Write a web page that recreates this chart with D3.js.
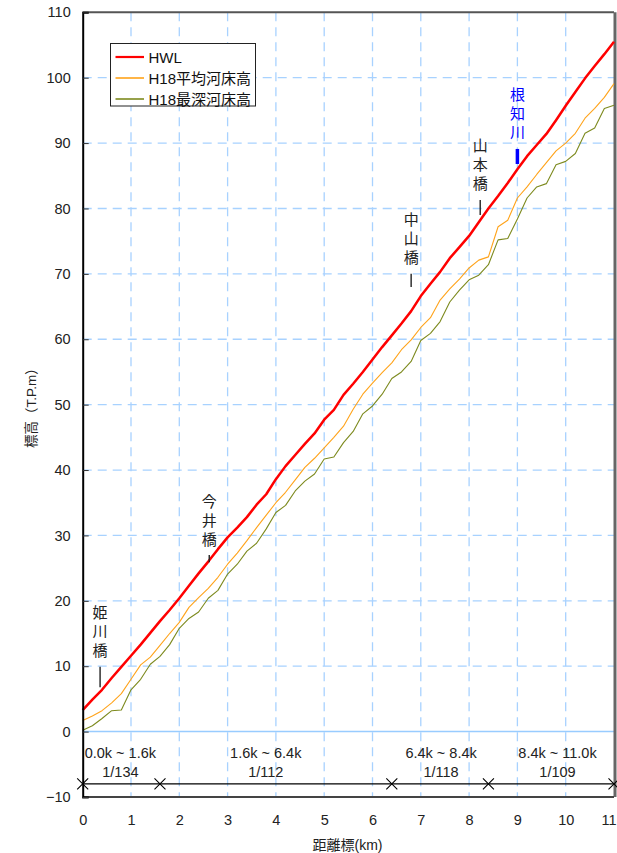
<!DOCTYPE html>
<html><head><meta charset="utf-8">
<script src="https://cdn.jsdelivr.net/npm/d3@7"></script>
<style>
body{margin:0;background:#fff;}
text{font-family:"Liberation Sans","Noto Sans CJK JP",sans-serif;}
</style></head>
<body>
<svg id="chart" width="617" height="853"></svg>
<script>
// ---------- data ----------
const km = d3.range(0, 56).map(i => +(i * 0.2).toFixed(1));
const hwl = [3.3,4.9,6.4,8.2,9.9,11.6,13.3,15.1,16.9,18.6,20.4,22.3,24.2,26.0,27.9,29.7,31.2,32.8,34.7,36.3,38.6,40.6,42.3,44.0,45.6,47.7,49.2,51.5,53.2,55.0,56.9,58.8,60.6,62.4,64.3,66.6,68.5,70.3,72.4,74.1,75.8,77.9,80.0,81.9,83.9,86.0,88.0,89.7,91.4,93.5,95.7,97.8,99.9,101.8,103.6,105.5];
const meanBed = [1.7,2.4,3.2,4.4,5.8,8.0,10.2,11.4,13.2,15.0,16.7,19.0,20.5,21.9,23.6,25.6,27.3,29.2,31.2,33.1,35.0,36.6,38.5,40.4,41.8,43.4,45.0,46.7,49.3,51.6,53.3,54.9,56.4,58.4,59.9,61.8,63.3,66.0,67.7,69.2,70.9,72.1,72.6,77.2,78.2,81.6,83.3,85.2,87.0,88.8,90.0,91.5,93.8,95.3,97.0,99.1];
const deepBed = [0.2,0.9,2.0,3.2,3.3,6.4,8.0,10.3,11.5,13.3,15.8,17.3,18.3,20.4,21.6,24.1,25.6,27.6,28.8,31.0,33.5,34.6,36.8,38.3,39.4,41.7,42.0,44.2,45.9,48.6,49.8,51.6,54.0,55.0,56.6,59.8,60.9,62.7,65.7,67.5,69.1,69.8,71.4,75.2,75.4,78.4,81.6,83.3,83.8,86.7,87.2,88.4,91.5,92.3,95.3,95.8];
const seriesNames = ["HWL", "H18平均河床高", "H18最深河床高"];

const bridgeNames = ["姫川橋", "今井橋", "中山橋", "山本橋", "根知川"];
const bridgeKm = [0.36, 2.62, 6.8, 8.23, 9.0];
const bridgeTop = [9.9, 27.0, 70.0, 81.3, 89.1];
const bridgeBottom = [6.8, 25.9, 68.0, 79.0, 86.8];

const segBreaks = [0, 1.6, 6.4, 8.4, 11.0];
const segLabelKm = [0.78, 3.79, 7.42, 9.83];
const segRanges = ["0.0k ~ 1.6k", "1.6k ~ 6.4k", "6.4k ~ 8.4k", "8.4k ~ 11.0k"];
const segSlopes = ["1/134", "1/112", "1/118", "1/109"];
const segLineLevel = -8;

const xTicks = d3.range(0, 12);
const yTicks = d3.range(-10, 111, 10);

// ---------- layout ----------
const svg = d3.select("#chart");
const x = d3.scaleLinear().domain([0, 11]).range([82.7, 614]);
const y = d3.scaleLinear().domain([-10, 110]).range([797, 12.3]);
const colors = ["#ff0000", "#ffa31a", "#7d8a1e"];
const widths = [2.5, 1.1, 1.1];

// grid
const g = svg.append("g");
g.selectAll("line.hg").data(yTicks.filter(v => v > -10 && v < 110 && v !== 0)).join("line")
  .attr("x1", x(0)).attr("x2", x(11)).attr("y1", d => y(d)).attr("y2", d => y(d))
  .attr("stroke", "#a8d2ff").attr("stroke-width", 1.3).attr("stroke-dasharray", "9,6");
g.selectAll("line.vg").data(xTicks.filter(v => v > 0 && v < 11)).join("line")
  .attr("x1", d => x(d)).attr("x2", d => x(d)).attr("y1", y(110)).attr("y2", y(-10))
  .attr("stroke", "#a8d2ff").attr("stroke-width", 1.3).attr("stroke-dasharray", "9,6");
g.append("line").attr("x1", x(0)).attr("x2", x(11)).attr("y1", y(0)).attr("y2", y(0))
  .attr("stroke", "#99ccff").attr("stroke-width", 1.5);

// frame
svg.append("line").attr("x1", x(0)).attr("x2", x(11)).attr("y1", y(110)).attr("y2", y(110)).attr("stroke", "#555").attr("stroke-width", 2);
svg.append("line").attr("x1", x(11)+1).attr("x2", x(11)+1).attr("y1", y(110)).attr("y2", y(-10)).attr("stroke", "#666").attr("stroke-width", 3);
svg.append("line").attr("x1", x(0)).attr("x2", x(11)).attr("y1", y(-10)).attr("y2", y(-10)).attr("stroke", "#444").attr("stroke-width", 2);

// series
const allSeries = [hwl, meanBed, deepBed];
const line = d3.line().x((d, i) => x(km[i])).y(d => y(d));
[2, 1, 0].forEach(s => {
  svg.append("path").datum(allSeries[s]).attr("d", line)
    .attr("fill", "none").attr("stroke", colors[s]).attr("stroke-width", widths[s]).attr("stroke-linejoin", "round");
});

// left axis
const yAxis = d3.axisLeft(y).tickValues(yTicks).tickSize(-6).tickPadding(12).tickFormat(d3.format("d"));
const ya = svg.append("g").attr("transform", `translate(${x(0)},0)`).call(yAxis);
ya.select(".domain").attr("stroke", "#000").attr("stroke-width", 2);
ya.selectAll(".tick line").attr("stroke", "#333");
ya.selectAll("text").attr("font-size", 14.5).attr("fill", "#222").attr("font-family", "Liberation Sans, sans-serif");

// bottom axis labels
const xAxis = d3.axisBottom(x).tickValues(xTicks).tickSize(0).tickPadding(18).tickFormat(d3.format("d"));
const xa = svg.append("g").attr("transform", `translate(0,${y(-10)})`).call(xAxis);
xa.select(".domain").remove();
xa.selectAll("text").attr("font-size", 14.5).attr("fill", "#222").attr("font-family", "Liberation Sans, sans-serif");
xa.selectAll(".tick").filter(d => d === 11).select("text").attr("text-anchor", "end").attr("dx", 2);

// axis titles
svg.append("text").attr("x", 347.5).attr("y", 850).attr("text-anchor", "middle")
  .attr("font-size", 14).attr("fill", "#222").text("距離標(km)");
svg.append("text").attr("transform", `translate(36,${y(50)}) rotate(-90)`).attr("text-anchor", "middle")
  .attr("font-size", 13.5).attr("fill", "#222").text("標高（T.P.m）");

// gradient segment line
svg.append("line").attr("x1", x(0)).attr("x2", x(11)).attr("y1", y(segLineLevel)).attr("y2", y(segLineLevel))
  .attr("stroke", "#000").attr("stroke-width", 1.2);
svg.selectAll("path.cross").data(segBreaks).join("path")
  .attr("d", d => { const cx = x(d), cy = y(segLineLevel), r = 5.5; return `M${cx-r},${cy-r}L${cx+r},${cy+r}M${cx-r},${cy+r}L${cx+r},${cy-r}`; })
  .attr("stroke", "#000").attr("stroke-width", 1.1).attr("fill", "none");
segRanges.forEach((t, i) => {
  const cx = x(segLabelKm[i]);
  svg.append("text").attr("x", cx).attr("y", 758).attr("text-anchor", "middle").attr("font-size", 14.5).attr("fill", "#222").text(t);
  svg.append("text").attr("x", cx).attr("y", 777).attr("text-anchor", "middle").attr("font-size", 14.5).attr("fill", "#222").text(segSlopes[i]);
});

// bridge annotations
bridgeNames.forEach((name, i) => {
  const isRiver = i === 4;
  const cx = x(bridgeKm[i]);
  const top = y(bridgeTop[i]);
  svg.append("line").attr("x1", cx).attr("x2", cx).attr("y1", top).attr("y2", y(bridgeBottom[i]))
    .attr("stroke", isRiver ? "#0000ff" : "#222").attr("stroke-width", isRiver ? 3.5 : 1.4);
  const chars = Array.from(name);
  chars.forEach((c, j) => {
    svg.append("text").attr("x", cx).attr("y", top - 16 - (chars.length - 1 - j) * 19)
      .attr("text-anchor", "middle").attr("dominant-baseline", "central")
      .attr("font-size", 15).attr("fill", isRiver ? "#0000ff" : "#222").text(c);
  });
});

// legend
const lg = svg.append("g");
lg.append("rect").attr("x", 110.5).attr("y", 43.5).attr("width", 145).attr("height", 62.5)
  .attr("fill", "#fff").attr("stroke", "#222").attr("stroke-width", 1);
seriesNames.forEach((n, i) => {
  const ly = 57 + i * 21;
  lg.append("line").attr("x1", 115.5).attr("x2", 144).attr("y1", ly).attr("y2", ly)
    .attr("stroke", colors[i]).attr("stroke-width", i === 0 ? 2.2 : 1.6);
  lg.append("text").attr("x", 148.5).attr("y", ly).attr("dominant-baseline", "central")
    .attr("font-size", 15).attr("fill", "#111").text(n);
});
</script>
</body></html>
